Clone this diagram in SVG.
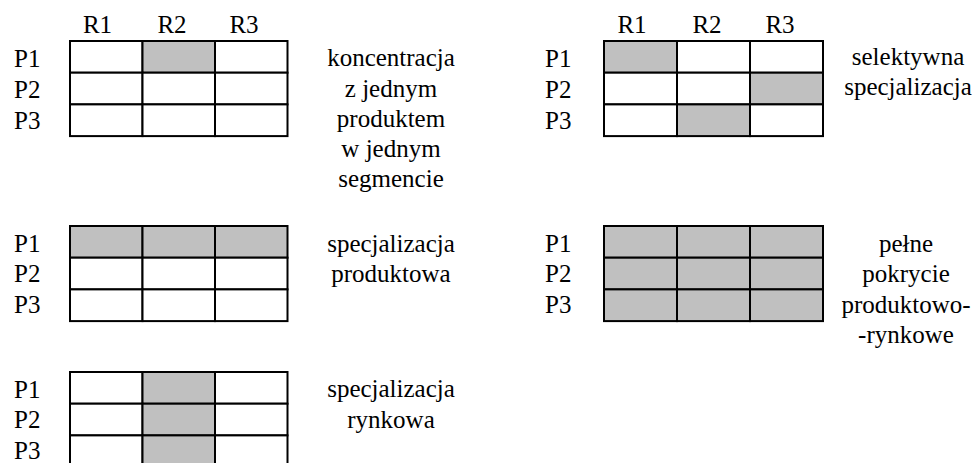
<svg xmlns="http://www.w3.org/2000/svg" width="978" height="463" viewBox="0 0 978 463">
<style>
text{font-family:"Liberation Serif",Tinos,"Times New Roman",Times,"Nimbus Roman","Nimbus Roman No9 L",FreeSerif,"Noto Serif","DejaVu Serif",Georgia,serif;font-size:25px;fill:#000}
.c{text-anchor:middle}
.w{fill:#fff;stroke:#000;stroke-width:2}
.g{fill:#c0c0c0;stroke:#000;stroke-width:2}
</style>
<rect width="978" height="463" fill="#fff"/>
<g id="grid-koncentracja">
<text x="97.5" y="33" class="c">R1</text><text x="172" y="33" class="c">R2</text><text x="244" y="33" class="c">R3</text>
<text x="14" y="67">P1</text><text x="14" y="97.5">P2</text><text x="14" y="128.5">P3</text>
<rect x="70" y="41" width="72.5" height="31.7" class="w"/><rect x="142.5" y="41" width="72.5" height="31.7" class="g"/><rect x="215" y="41" width="72.5" height="31.7" class="w"/>
<rect x="70" y="72.7" width="72.5" height="31.7" class="w"/><rect x="142.5" y="72.7" width="72.5" height="31.7" class="w"/><rect x="215" y="72.7" width="72.5" height="31.7" class="w"/>
<rect x="70" y="104.4" width="72.5" height="31.7" class="w"/><rect x="142.5" y="104.4" width="72.5" height="31.7" class="w"/><rect x="215" y="104.4" width="72.5" height="31.7" class="w"/>
<text x="391" y="66" class="c">koncentracja</text>
<text x="391" y="96.5" class="c">z jednym</text>
<text x="391" y="127" class="c">produktem</text>
<text x="391" y="157" class="c">w jednym</text>
<text x="391" y="187" class="c">segmencie</text>
</g>
<g id="grid-selektywna">
<text x="632" y="33" class="c">R1</text><text x="707" y="33" class="c">R2</text><text x="780" y="33" class="c">R3</text>
<text x="545" y="67">P1</text><text x="545" y="97.5">P2</text><text x="545" y="128.5">P3</text>
<rect x="604" y="41" width="73" height="31.7" class="g"/><rect x="677" y="41" width="73" height="31.7" class="w"/><rect x="750" y="41" width="73" height="31.7" class="w"/>
<rect x="604" y="72.7" width="73" height="31.7" class="w"/><rect x="677" y="72.7" width="73" height="31.7" class="w"/><rect x="750" y="72.7" width="73" height="31.7" class="g"/>
<rect x="604" y="104.4" width="73" height="31.7" class="w"/><rect x="677" y="104.4" width="73" height="31.7" class="g"/><rect x="750" y="104.4" width="73" height="31.7" class="w"/>
<text x="908" y="65" class="c">selektywna</text>
<text x="908" y="95" class="c">specjalizacja</text>
</g>
<g id="grid-produktowa">
<text x="14" y="252">P1</text><text x="14" y="282">P2</text><text x="14" y="313">P3</text>
<rect x="70" y="226" width="72.5" height="31.7" class="g"/><rect x="142.5" y="226" width="72.5" height="31.7" class="g"/><rect x="215" y="226" width="72.5" height="31.7" class="g"/>
<rect x="70" y="257.7" width="72.5" height="31.7" class="w"/><rect x="142.5" y="257.7" width="72.5" height="31.7" class="w"/><rect x="215" y="257.7" width="72.5" height="31.7" class="w"/>
<rect x="70" y="289.4" width="72.5" height="31.7" class="w"/><rect x="142.5" y="289.4" width="72.5" height="31.7" class="w"/><rect x="215" y="289.4" width="72.5" height="31.7" class="w"/>
<text x="391" y="252" class="c">specjalizacja</text>
<text x="391" y="282" class="c">produktowa</text>
</g>
<g id="grid-pelne">
<text x="545" y="252">P1</text><text x="545" y="282">P2</text><text x="545" y="313">P3</text>
<rect x="604" y="226" width="73" height="31.7" class="g"/><rect x="677" y="226" width="73" height="31.7" class="g"/><rect x="750" y="226" width="73" height="31.7" class="g"/>
<rect x="604" y="257.7" width="73" height="31.7" class="g"/><rect x="677" y="257.7" width="73" height="31.7" class="g"/><rect x="750" y="257.7" width="73" height="31.7" class="g"/>
<rect x="604" y="289.4" width="73" height="31.7" class="g"/><rect x="677" y="289.4" width="73" height="31.7" class="g"/><rect x="750" y="289.4" width="73" height="31.7" class="g"/>
<text x="906" y="252" class="c">pełne</text>
<text x="906" y="282" class="c">pokrycie</text>
<text x="906" y="313" class="c">produktowo-</text>
<text x="906" y="343" class="c">-rynkowe</text>
</g>
<g id="grid-rynkowa">
<text x="14" y="398">P1</text><text x="14" y="428">P2</text><text x="14" y="459">P3</text>
<rect x="70" y="372" width="72.5" height="31.7" class="w"/><rect x="142.5" y="372" width="72.5" height="31.7" class="g"/><rect x="215" y="372" width="72.5" height="31.7" class="w"/>
<rect x="70" y="403.7" width="72.5" height="31.7" class="w"/><rect x="142.5" y="403.7" width="72.5" height="31.7" class="g"/><rect x="215" y="403.7" width="72.5" height="31.7" class="w"/>
<rect x="70" y="435.4" width="72.5" height="31.7" class="w"/><rect x="142.5" y="435.4" width="72.5" height="31.7" class="g"/><rect x="215" y="435.4" width="72.5" height="31.7" class="w"/>
<text x="391" y="397" class="c">specjalizacja</text>
<text x="391" y="428" class="c">rynkowa</text>
</g>
</svg>
